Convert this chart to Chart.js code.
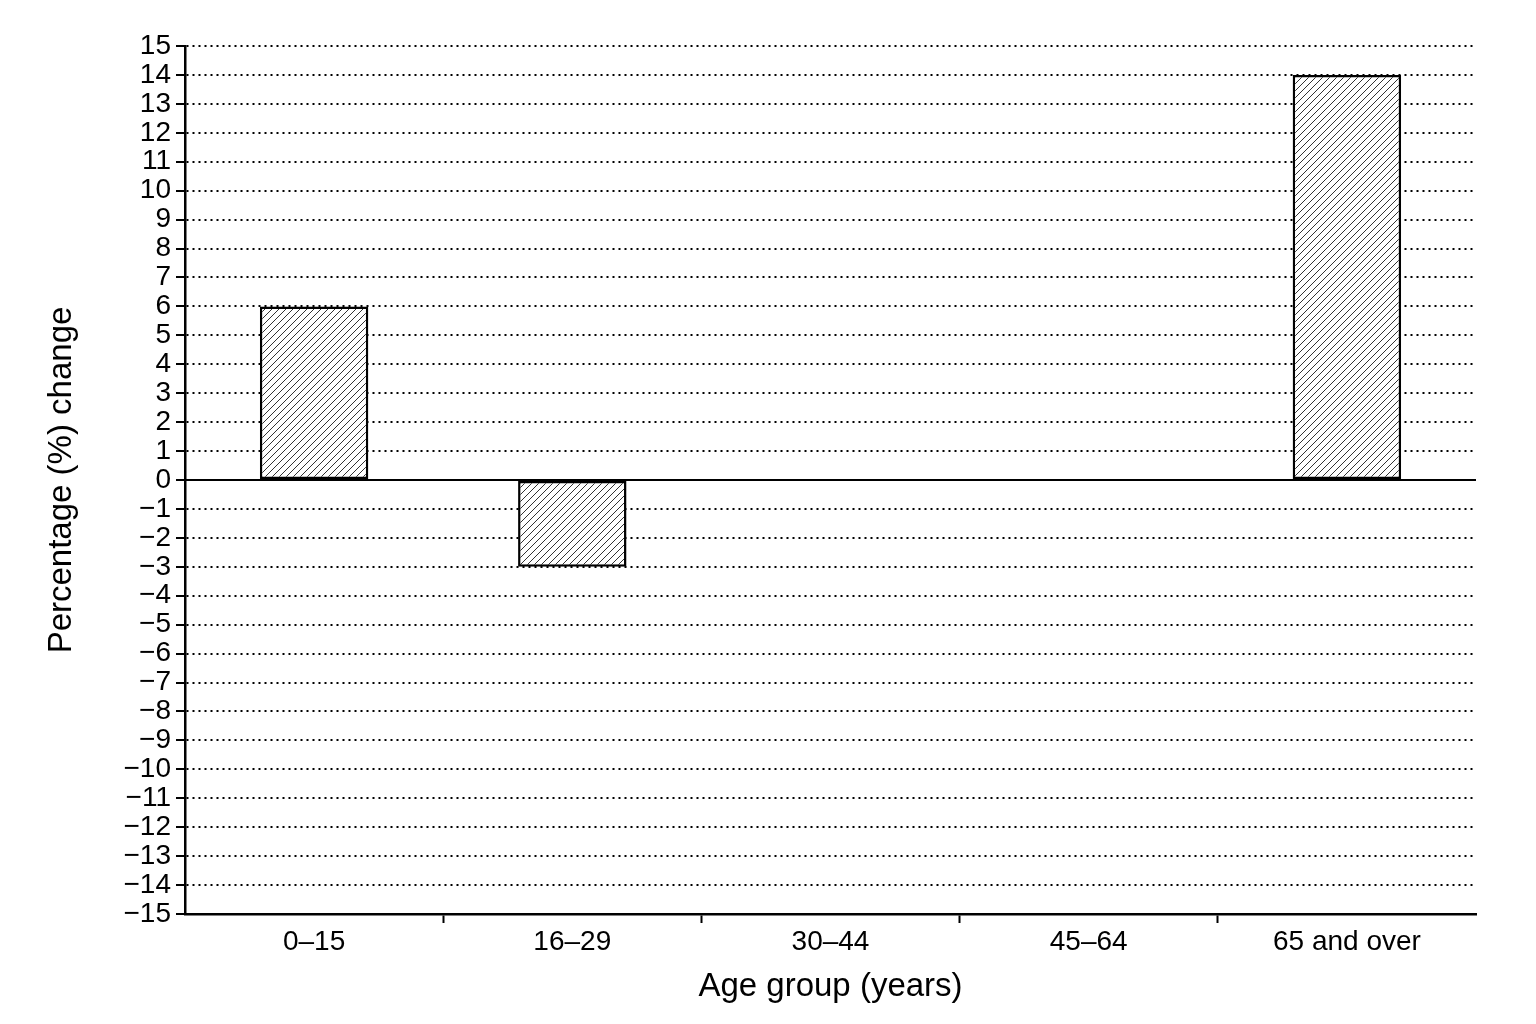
<!DOCTYPE html>
<html>
<head>
<meta charset="utf-8">
<script src="https://cdn.jsdelivr.net/npm/chart.js@4"></script>
<style>
  html, body { margin: 0; padding: 0; background: #fff; }
  #wrap { width: 1536px; height: 1024px; }
</style>
</head>
<body>
<div id="wrap"><canvas id="ageChart" width="1536" height="1024"></canvas></div>
<script>
const ageGroups = ["0\u201315", "16\u201329", "30\u201344", "45\u201364", "65 and over"];
const pctChange = [6, -3, 0, 0, 14];
const yMin = -15;
const yMax = 15;

// diagonal hatch fill for the bars
function makeHatch() {
  const s = 7;
  const c = document.createElement("canvas");
  c.width = s; c.height = s;
  const g = c.getContext("2d");
  g.fillStyle = "#fff";
  g.fillRect(0, 0, s, s);
  g.strokeStyle = "#333";
  g.lineWidth = 1;
  g.beginPath();
  g.moveTo(0, s); g.lineTo(s, 0);
  g.moveTo(-1, 1); g.lineTo(1, -1);
  g.moveTo(s - 1, s + 1); g.lineTo(s + 1, s - 1);
  g.stroke();
  return g.createPattern(c, "repeat");
}

const minusFmt = v => (v < 0 ? "\u2212" + Math.abs(v) : String(v));

// solid line at zero, under the bars
const zeroLine = {
  id: "zeroLine",
  beforeDatasetsDraw(chart) {
    const { ctx, chartArea, scales } = chart;
    const y = scales.y.getPixelForValue(0);
    ctx.save();
    ctx.strokeStyle = "#000";
    ctx.lineWidth = 2;
    ctx.beginPath();
    ctx.moveTo(chartArea.left, y);
    ctx.lineTo(chartArea.right, y);
    ctx.stroke();
    ctx.restore();
  }
};

const ctx = document.getElementById("ageChart").getContext("2d");
const fontFamily = "'Liberation Sans', Arial, sans-serif";

new Chart(ctx, {
  type: "bar",
  data: {
    labels: ageGroups,
    datasets: [{
      data: pctChange,
      backgroundColor: makeHatch(),
      borderColor: "#000",
      borderWidth: 2.5,
      borderSkipped: false,
      barPercentage: 0.42,
      categoryPercentage: 1
    }]
  },
  options: {
    responsive: false,
    animation: false,
    layout: { padding: { top: 46, right: 60, bottom: 0, left: 0 } },
    plugins: { legend: { display: false }, tooltip: { enabled: false } },
    scales: {
      x: {
        offset: true,
        grid: {
          offset: true,
          drawOnChartArea: false,
          drawTicks: true,
          tickLength: 9,
          tickWidth: 2,
          tickColor: (c) => (c.type === "tick" && c.index > 0) ? "#000" : "rgba(0,0,0,0)"
        },
        border: { display: true, color: "#000", width: 2.5 },
        ticks: { color: "#000", font: { family: fontFamily, size: 28 }, padding: 2, maxRotation: 0, autoSkip: false },
        title: {
          display: true,
          text: "Age group (years)",
          color: "#000",
          font: { family: fontFamily, size: 33 },
          padding: { top: 4, bottom: 17 }
        },
        afterFit: (s) => { s.height = 110; }
      },
      y: {
        min: yMin,
        max: yMax,
        ticks: {
          stepSize: 1,
          autoSkip: false,
          color: "#000",
          font: { family: fontFamily, size: 28 },
          padding: 5,
          callback: (v) => minusFmt(v)
        },
        grid: {
          color: "#000",
          lineWidth: 2,
          drawTicks: true,
          tickLength: 9,
          tickColor: "#000",
          tickWidth: 2
        },
        border: { display: true, color: "#000", width: 2.5, dash: [2, 4] },
        title: {
          display: true,
          text: "Percentage (%) change",
          color: "#000",
          font: { family: fontFamily, size: 33 },
          padding: { top: 42, bottom: 0 }
        },
        afterFit: (s) => { s.width = 185; }
      }
    }
  },
  plugins: [zeroLine]
});
</script>
</body>
</html>
